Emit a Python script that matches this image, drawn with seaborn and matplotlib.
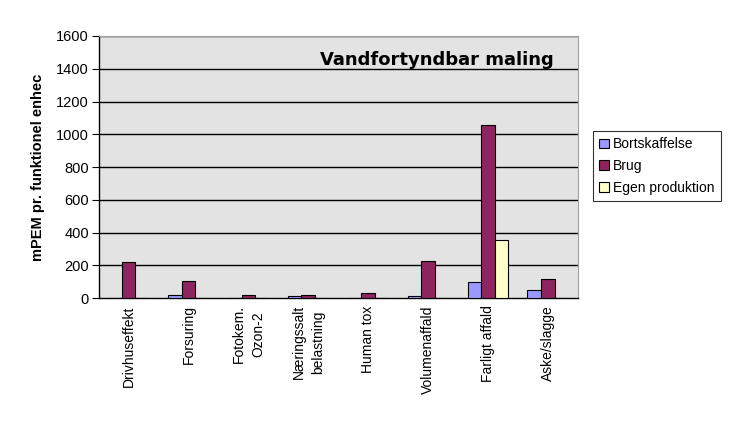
import matplotlib
matplotlib.use("Agg")
import matplotlib.pyplot as plt
import pandas as pd
import seaborn as sns

categories = ["Drivhuseffekt", "Forsuring", "Fotokem.\nOzon-2", "Næringssalt\nbelastning",
              "Human tox", "Volumenaffald", "Farligt affald", "Aske/slagge"]
bortskaffelse = [4, 20, 0, 14, 3, 14, 100, 51]
brug = [220, 106, 18, 20, 34, 228, 1054, 118]
egen_produktion = [0, 0, 0, 0, 0, 0, 355, 0]
series = ["Bortskaffelse", "Brug", "Egen produktion"]
colors = ["#9999FF", "#8E2460", "#FFFFCC"]
yticks = [0, 200, 400, 600, 800, 1000, 1200, 1400, 1600]

rows = []
for name, vals in zip(series, [bortskaffelse, brug, egen_produktion]):
    for c, v in zip(categories, vals):
        rows.append({'kategori': c, 'serie': name, 'mPEM': v})
df = pd.DataFrame(rows)

sns.set_style("white")
plt.rcParams['font.family'] = ['Liberation Sans', 'DejaVu Sans']
plt.rcParams['text.color'] = 'black'
plt.rcParams['axes.labelcolor'] = 'black'
plt.rcParams['xtick.color'] = 'black'
plt.rcParams['ytick.color'] = 'black'

fig = plt.figure(figsize=(7.39, 4.47), dpi=100)
ax = fig.add_axes([0.1336, 0.3327, 0.6481, 0.5868])
ax.set_facecolor('#E3E3E3')

g = sns.barplot(data=df, x='kategori', y='mPEM', hue='serie', palette=colors,
                width=0.68, edgecolor='black', linewidth=0.8, saturation=1,
                legend=True, ax=ax, zorder=3)

ax.set_ylim(0, 1600)
ax.set_xlim(-0.5, len(categories) - 0.5)
ax.set_yticks(yticks)
ax.set_yticklabels([str(t) for t in yticks], fontsize=10.5)
for t in yticks[1:]:
    ax.axhline(t, color='black', linewidth=1, zorder=1)

ax.set_xticks(range(len(categories)))
ax.set_xticklabels(categories, rotation=90, fontsize=10, va='top', ha='center',
                   multialignment='center', linespacing=1.45)
ax.tick_params(axis='x', which='major', length=0, pad=5)
ax.set_xticks([i - 0.5 for i in range(len(categories) + 1)], minor=True)
ax.tick_params(axis='x', which='minor', length=6, direction='inout', color='black')
ax.tick_params(axis='y', length=5, direction='out', color='black', pad=2, left=True)

ax.set_xlabel('')
ax.set_ylabel('mPEM pr. funktionel enhec', fontsize=10.5, fontweight='bold', labelpad=8)

for side in ['left', 'bottom']:
    ax.spines[side].set_color('black')
    ax.spines[side].set_linewidth(1)
for side in ['top', 'right']:
    ax.spines[side].set_color('#A0A0A0')

ax.text(0.95, 0.91, 'Vandfortyndbar maling', transform=ax.transAxes,
        ha='right', va='center', fontsize=13, fontweight='bold',
        family='DejaVu Sans', color='black', zorder=4)

ax.legend_.remove()
handles, labels = ax.get_legend_handles_labels()
leg = fig.legend(handles, labels, loc='upper left', bbox_to_anchor=(593 / 739, 1 - 131 / 447),
                 fontsize=10, frameon=True, fancybox=False, edgecolor='black',
                 handlelength=0.7, handleheight=0.7, handletextpad=0.3,
                 labelspacing=0.55, borderpad=0.45, borderaxespad=0)
leg.get_frame().set_linewidth(0.8)

fig.savefig('out.png', dpi=100)
